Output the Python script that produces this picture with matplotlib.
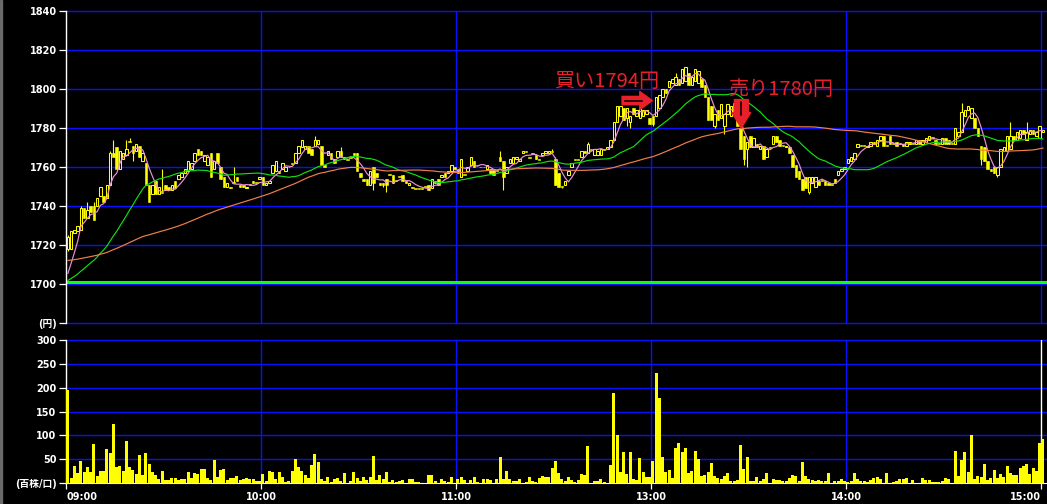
import numpy as np
import matplotlib
matplotlib.use("Agg")
import matplotlib.pyplot as plt
from matplotlib.patches import Rectangle

# 1-minute bars: 09:00-11:30 then 12:30-15:00, lunch break squeezed out
opens = [
    1718, 1718, 1726, 1727, 1728, 1739, 1734, 1740, 1740, 1740,
    1745, 1745, 1744, 1751, 1767, 1770, 1759, 1764, 1766, 1773,
    1771, 1768, 1771, 1763, 1762, 1751, 1746, 1753, 1746, 1747,
    1751, 1750, 1748, 1753, 1754, 1755, 1757, 1758, 1759, 1763,
    1769, 1768, 1763, 1761, 1767, 1759, 1767, 1760, 1755, 1750,
    1750, 1752, 1755, 1751, 1751, 1749, 1751, 1753, 1752, 1754,
    1755, 1751, 1752, 1757, 1758, 1758, 1759, 1758, 1760, 1762,
    1762, 1767, 1770, 1769, 1771, 1769, 1771, 1772, 1771, 1761,
    1766, 1767, 1764, 1765, 1768, 1765, 1764, 1765, 1767, 1767,
    1757, 1754, 1754, 1751, 1760, 1757, 1752, 1752, 1754, 1756,
    1756, 1753, 1755, 1756, 1753, 1751, 1750, 1749, 1749, 1749,
    1750, 1751, 1749, 1753, 1754, 1755, 1757, 1757, 1758, 1760,
    1759, 1755, 1756, 1758, 1761, 1763, 1761, 1760, 1760, 1759,
    1759, 1759, 1758, 1765, 1763, 1757, 1762, 1762, 1764, 1763,
    1767, 1768, 1765, 1767, 1766, 1764, 1766, 1767, 1767, 1768,
    1764, 1757, 1750, 1751, 1756, 1760, 1764, 1764, 1765, 1768,
    1767, 1769, 1766, 1766, 1766, 1769, 1769, 1770, 1774, 1783,
    1786, 1790, 1785, 1783, 1790, 1786, 1785, 1786, 1787, 1785,
    1786, 1786, 1790, 1796, 1800, 1801, 1803, 1802, 1805, 1803,
    1804, 1808, 1802, 1804, 1803, 1805, 1802, 1796, 1791, 1781,
    1789, 1785, 1781, 1787, 1786, 1793, 1787, 1780, 1776, 1769,
    1776, 1770, 1772, 1769, 1771, 1765, 1770, 1772, 1776, 1774,
    1771, 1770, 1770, 1766, 1761, 1758, 1754, 1755, 1747, 1752,
    1750, 1753, 1753, 1753, 1752, 1751, 1754, 1756, 1758, 1759,
    1762, 1763, 1764, 1770, 1771, 1771, 1770, 1771, 1773, 1771,
    1774, 1776, 1771, 1776, 1772, 1773, 1772, 1772, 1771, 1772,
    1772, 1772, 1774, 1772, 1773, 1774, 1775, 1774, 1772, 1772,
    1775, 1774, 1772, 1772, 1776, 1778, 1786, 1789, 1785, 1785,
    1780, 1771, 1770, 1763, 1759, 1760, 1756, 1760, 1768, 1768,
    1769, 1776, 1774, 1775, 1779, 1774, 1777, 1779, 1776, 1775,
    1778,
]
closes = [
    1724, 1727, 1728, 1730, 1739, 1734, 1738, 1737, 1733, 1744,
    1750, 1742, 1751, 1767, 1765, 1759, 1768, 1767, 1769, 1773,
    1767, 1772, 1765, 1767, 1751, 1742, 1751, 1746, 1750, 1747,
    1748, 1748, 1751, 1749, 1756, 1757, 1759, 1763, 1762, 1767,
    1766, 1766, 1766, 1765, 1755, 1763, 1762, 1754, 1750, 1752,
    1749, 1752, 1753, 1750, 1750, 1750, 1751, 1752, 1752, 1755,
    1751, 1752, 1753, 1761, 1763, 1757, 1762, 1760, 1760, 1762,
    1767, 1771, 1774, 1771, 1767, 1766, 1774, 1774, 1761, 1760,
    1768, 1764, 1762, 1768, 1765, 1764, 1764, 1765, 1766, 1758,
    1755, 1753, 1751, 1758, 1752, 1755, 1751, 1751, 1751, 1756,
    1752, 1753, 1755, 1753, 1752, 1752, 1749, 1749, 1749, 1749,
    1750, 1748, 1754, 1752, 1751, 1756, 1755, 1758, 1761, 1759,
    1757, 1764, 1756, 1760, 1765, 1760, 1761, 1760, 1760, 1761,
    1757, 1756, 1758, 1763, 1755, 1760, 1764, 1765, 1765, 1764,
    1768, 1768, 1765, 1767, 1764, 1764, 1767, 1768, 1768, 1768,
    1751, 1750, 1750, 1753, 1758, 1762, 1764, 1764, 1768, 1767,
    1772, 1769, 1769, 1768, 1769, 1769, 1770, 1774, 1783, 1791,
    1791, 1784, 1790, 1786, 1787, 1789, 1790, 1789, 1789, 1782,
    1782, 1796, 1797, 1800, 1798, 1804, 1805, 1806, 1802, 1810,
    1811, 1802, 1806, 1810, 1809, 1801, 1796, 1784, 1784, 1787,
    1784, 1792, 1787, 1792, 1791, 1787, 1781, 1769, 1764, 1773,
    1770, 1775, 1770, 1771, 1764, 1769, 1770, 1776, 1773, 1771,
    1771, 1771, 1767, 1760, 1755, 1754, 1748, 1749, 1755, 1755,
    1755, 1751, 1753, 1751, 1751, 1751, 1752, 1758, 1759, 1760,
    1764, 1765, 1767, 1772, 1771, 1771, 1771, 1773, 1772, 1774,
    1776, 1771, 1771, 1772, 1772, 1771, 1772, 1771, 1773, 1773,
    1772, 1774, 1772, 1774, 1775, 1776, 1775, 1772, 1772, 1775,
    1772, 1772, 1772, 1780, 1778, 1788, 1789, 1791, 1790, 1780,
    1776, 1764, 1763, 1759, 1758, 1757, 1760, 1769, 1770, 1776,
    1776, 1774, 1778, 1779, 1777, 1778, 1779, 1777, 1778, 1781,
    1779,
]
# wick ends that stick out past the body (bar index -> price)
wick_high = {0: 1725, 4: 1740, 6: 1742, 8: 1742, 13: 1768, 14: 1774, 18: 1774,
             19: 1775, 29: 1759, 51: 1760, 76: 1776, 84: 1770, 133: 1768,
             149: 1769, 150: 1765, 160: 1773, 187: 1808, 190: 1811, 275: 1793,
             290: 1783, 295: 1783}
wick_low = {0: 1717, 20: 1763, 94: 1748, 97: 1750, 98: 1747, 134: 1748,
            152: 1749, 172: 1781, 173: 1780, 180: 1781, 199: 1780, 202: 1777,
            208: 1761, 209: 1760, 228: 1746, 281: 1761, 286: 1755}

volume = [
    195, 12, 36, 22, 46, 24, 34, 24, 82, 16,
    26, 26, 72, 64, 124, 34, 36, 26, 88, 34,
    28, 20, 60, 18, 64, 40, 24, 18, 10, 26,
    7, 7, 11, 11, 6, 9, 9, 24, 12, 22,
    20, 30, 30, 12, 6, 48, 14, 28, 30, 6,
    11, 11, 16, 7, 9, 11, 9, 9, 5, 5,
    20, 5, 26, 24, 9, 24, 14, 2, 5, 26,
    51, 35, 25, 18, 12, 38, 61, 45, 9, 5,
    13, 3, 9, 11, 5, 22, 0, 5, 24, 11,
    5, 14, 7, 14, 56, 7, 17, 9, 24, 3,
    7, 3, 5, 7, 0, 9, 9, 3, 3, 0,
    0, 17, 17, 5, 0, 9, 5, 3, 14, 0,
    9, 13, 7, 0, 7, 13, 3, 0, 9, 9,
    7, 0, 9, 55, 9, 26, 9, 5, 5, 9,
    0, 3, 13, 5, 3, 11, 15, 13, 13, 32,
    46, 22, 9, 5, 13, 7, 3, 7, 19, 17,
    78, 0, 5, 5, 9, 3, 0, 38, 189, 100,
    24, 66, 20, 66, 9, 7, 52, 24, 13, 13,
    46, 230, 178, 55, 24, 28, 11, 74, 85, 65,
    74, 22, 26, 67, 51, 15, 17, 24, 42, 15,
    11, 9, 15, 22, 5, 5, 7, 79, 30, 55,
    5, 5, 13, 5, 9, 22, 0, 9, 7, 7,
    5, 5, 11, 17, 15, 5, 44, 15, 9, 7,
    5, 7, 5, 5, 22, 0, 5, 5, 9, 5,
    3, 5, 22, 9, 5, 5, 3, 7, 11, 13,
    9, 0, 22, 0, 3, 5, 9, 9, 11, 0,
    7, 0, 0, 11, 7, 7, 3, 3, 3, 5,
    11, 9, 0, 67, 15, 48, 65, 24, 100, 9,
    15, 13, 40, 7, 11, 28, 11, 20, 13, 37,
    22, 18, 18, 32, 36, 40, 20, 32, 26, 85,
    93,
]

prev_close = 1701
# moving averages (bars) and the level each one carries over from the day before
ma_lengths = [5, 25, 75]
ma_prior = [1701, 1701, 1712]
ma_colors = ["#f090d8", "#10e010", "#f08048"]

price_ticks = [1680, 1700, 1720, 1740, 1760, 1780, 1800, 1820, 1840]
vol_ticks = [0, 50, 100, 150, 200, 250, 300]
hour_pos = [0, 60, 120, 180, 240, 300]
hour_labels = ["09:00", "10:00", "11:00", "13:00", "14:00", "15:00"]

buy_bar, buy_price, buy_text = 180, 1794, "買い1794円"
sell_bar, sell_price, sell_text = 207.7, 1780, "売り1780円"

YELLOW = "#ffff00"
BLUE = "#0a10ff"
RED = "#e8202a"

plt.rcParams['font.family'] = ['DejaVu Sans', 'Noto Sans CJK JP']

W, H = 1047, 504
fig = plt.figure(figsize=(W / 100, H / 100), dpi=100, facecolor="black")
left = 66.3 / W
width = 1 - left
ax_p = fig.add_axes([left, 1 - 323.3 / H, width, (323.3 - 10.7) / H])
ax_v = fig.add_axes([left, 1 - 483.3 / H, width, (483.3 - 339.7) / H])
fig.patches.append(Rectangle((0, 0), 2 / W, 1, transform=fig.transFigure,
                             color="#6a6a6a"))

o = np.array(opens, float)
c = np.array(closes, float)
x = np.arange(len(c)) + 0.5
hi = np.maximum(o, c)
lo = np.minimum(o, c)
for k, v in wick_high.items():
    hi[k] = v
for k, v in wick_low.items():
    lo[k] = v

for ax in (ax_p, ax_v):
    ax.set_facecolor("black")
    ax.set_xlim(0, (W - 66.3) / 3.25)
    for s in ax.spines.values():
        s.set_visible(False)
    ax.spines["left"].set_visible(True)
    ax.spines["left"].set_color("white")
    ax.spines["left"].set_linewidth(1.0)
    ax.tick_params(axis="y", colors="white", direction="out", length=5,
                   width=0.9, pad=2, labelsize=7)

# ---- price panel
ax_p.set_ylim(1680, 1840)
for p in price_ticks:
    ax_p.axhline(p, color=BLUE, lw=1.0, zorder=1, clip_on=False)
for h in hour_pos[1:]:
    ax_p.axvline(h, color=BLUE, lw=1.0, zorder=1)
ax_p.axhline(prev_close, color="#10ff10", lw=2.2, zorder=2)

ax_p.vlines(x, lo, hi, color=YELLOW, lw=0.8, zorder=3)
up = c > o
body = np.maximum(np.abs(c - o), 0.45)
ax_p.bar(x[up], body[up], bottom=np.minimum(o, c)[up], width=0.8,
         facecolor="black", edgecolor=YELLOW, linewidth=0.75, zorder=4)
ax_p.bar(x[~up], body[~up], bottom=np.minimum(o, c)[~up] - (body[~up] - np.abs(c - o)[~up]) / 2,
         width=0.8, facecolor=YELLOW, edgecolor=YELLOW, linewidth=0.4, zorder=4)

for n, seed, col in zip(ma_lengths, ma_prior, ma_colors):
    padded = np.concatenate([np.full(n - 1, float(seed)), c])
    ma = np.convolve(padded, np.ones(n) / n, mode="valid")
    ax_p.plot(x, ma, color=col, lw=0.85, zorder=5)

ax_p.set_yticks(price_ticks)
ax_p.set_yticklabels(["(円)"] + [str(p) for p in price_ticks[1:]],
                     fontweight="bold")
ax_p.set_xticks([])

# buy / sell marks
ax_p.text(150.3, 1803.8, buy_text, color=RED, fontsize=14.5,
          family=['Noto Sans CJK JP', 'DejaVu Sans'], va="center", ha="left",
          zorder=7)
ax_p.text(203.5, 1799.6, sell_text, color=RED, fontsize=14.5,
          family=['Noto Sans CJK JP', 'DejaVu Sans'], va="center", ha="left",
          zorder=7)
ax_p.annotate("", xy=(buy_bar + 0.3, buy_price), xytext=(171.0, buy_price),
              arrowprops=dict(arrowstyle="simple,head_length=0.9,head_width=1.3,tail_width=0.6",
                              fc=RED, ec=RED, mutation_scale=10,
                              shrinkA=0, shrinkB=0), zorder=6)
ax_p.plot([172.0, 177.0], [buy_price, buy_price], color="black", lw=1.1, zorder=7)
ax_p.annotate("", xy=(sell_bar, sell_price), xytext=(sell_bar, 1794.5),
              arrowprops=dict(arrowstyle="simple,head_length=1.1,head_width=1.35,tail_width=1.0",
                              fc=RED, ec=RED, mutation_scale=10,
                              shrinkA=0, shrinkB=0), zorder=6)
ax_p.plot([sell_bar, sell_bar], [1793.5, 1786.5], color="black", lw=1.1, zorder=7)

# ---- volume panel
ax_v.set_ylim(0, 300)
for v in vol_ticks[1:]:
    ax_v.axhline(v, color=BLUE, lw=1.0, zorder=1, clip_on=False)
for h in hour_pos[1:-1]:
    ax_v.axvline(h, color=BLUE, lw=1.0, zorder=1)
ax_v.axvline(hour_pos[-1], color="white", lw=1.0, zorder=1)
ax_v.spines["bottom"].set_visible(True)
ax_v.spines["bottom"].set_color("white")
ax_v.bar(x[:len(volume)], volume, width=0.92, color=YELLOW, linewidth=0, zorder=3)

ax_v.set_yticks(vol_ticks)
ax_v.set_yticklabels(["(百株/口)"] + [str(v) for v in vol_ticks[1:]],
                     fontweight="bold")
ax_v.set_xticks(hour_pos)
ax_v.set_xticklabels(hour_labels, fontweight="bold")
ax_v.tick_params(axis="x", colors="white", direction="out", length=4,
                 width=0.9, pad=2, labelsize=7)
xl = ax_v.get_xticklabels()
xl[0].set_ha("left")
xl[-1].set_ha("right")

fig.savefig("out.png", dpi=100, facecolor="black")
